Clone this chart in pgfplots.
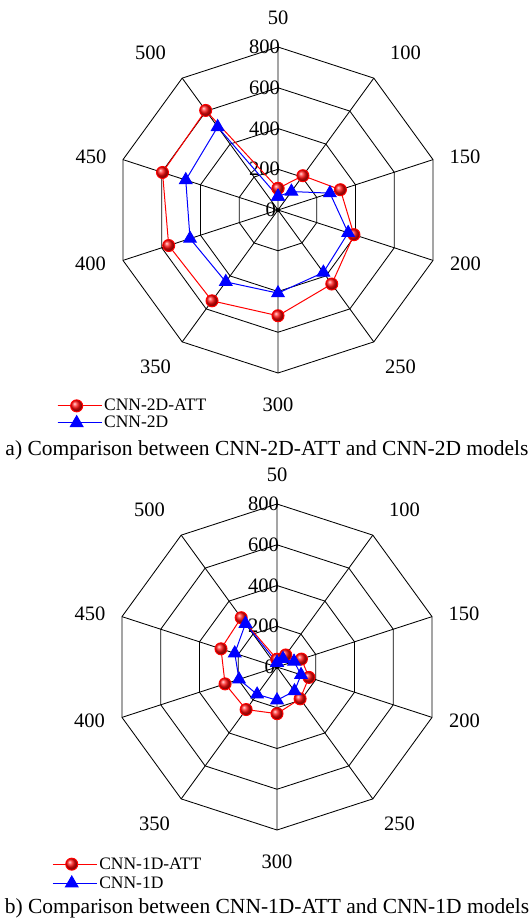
\documentclass[border=0pt]{standalone}
\usepackage{fontspec}
\setmainfont{Liberation Serif}
\usepackage{pgfplots}
\pgfplotsset{compat=1.18}
\usepgfplotslibrary{polar}
\pgfplotsset{
  radar/.style={
    width=326bp, height=326bp, scale only axis,
    xmin=0, xmax=360, ymin=0, ymax=800,
    xtick={18,54,90,126,162,198,234,270,306,342},
    xticklabels=\empty, ytick=\empty,
    xmajorgrids, ymajorgrids=false,
    major grid style={black, line width=0.85bp},
    major tick length=0pt,
    axis line style={draw=none},
    clip=false,
    legend style={draw=none, fill=none, inner sep=0pt,
      font=\fontsize{17.5bp}{18bp}\selectfont,
      cells={anchor=west}, row sep=0bp},
    legend image code/.code={\path (0bp,0bp) -- (44bp,0bp);\draw[mark repeat=2,mark phase=2,##1] plot coordinates {(0bp,0bp) (19bp,0bp) (38bp,0bp)};},
  },
  ring/.style={black, line width=0.85bp, forget plot, mark=none},
  attline/.style={red, line width=1bp, mark=ball, mark size=6bp, mark options={ball color=red!95!white}},
  baseline/.style={blue, line width=1bp, mark=triangle*, mark size=7.2bp, mark options={fill=blue, draw=blue}},
}
\newcommand{\lbl}{\fontsize{20.5bp}{24bp}\selectfont}
\newcommand{\radarframe}{%
  \addplot[ring] coordinates {(90,200)(54,200)(18,200)(342,200)(306,200)(270,200)(234,200)(198,200)(162,200)(126,200)(90,200)};
  \addplot[ring] coordinates {(90,400)(54,400)(18,400)(342,400)(306,400)(270,400)(234,400)(198,400)(162,400)(126,400)(90,400)};
  \addplot[ring] coordinates {(90,600)(54,600)(18,600)(342,600)(306,600)(270,600)(234,600)(198,600)(162,600)(126,600)(90,600)};
  \addplot[ring] coordinates {(90,800)(54,800)(18,800)(342,800)(306,800)(270,800)(234,800)(198,800)(162,800)(126,800)(90,800)};
  \node[font=\lbl] at (axis cs:90,943) {50};
  \node[font=\lbl] at (axis cs:51,995) {100};
  \node[font=\lbl] at (axis cs:16,955) {150};
  \node[font=\lbl] at (axis cs:344,957) {200};
  \node[font=\lbl] at (axis cs:308,977) {250};
  \node[font=\lbl] at (axis cs:270,957) {300};
  \node[font=\lbl] at (axis cs:232,977) {350};
  \node[font=\lbl] at (axis cs:196,957) {400};
  \node[font=\lbl] at (axis cs:164,955) {450};
  \node[font=\lbl] at (axis cs:129,995) {500};
  \node[font=\lbl, anchor=east, inner sep=0pt, xshift=2bp] at (axis cs:90,800) {800};
  \node[font=\lbl, anchor=east, inner sep=0pt, xshift=2bp] at (axis cs:90,600) {600};
  \node[font=\lbl, anchor=east, inner sep=0pt, xshift=2bp] at (axis cs:90,400) {400};
  \node[font=\lbl, anchor=east, inner sep=0pt, xshift=2bp] at (axis cs:90,200) {200};
  \node[font=\lbl, anchor=east, inner sep=0pt, xshift=-2bp] at (axis cs:90,0) {0};
}
\begin{document}
\begin{tikzpicture}
\path[use as bounding box] (0,0) rectangle (531bp,-920bp);
\begin{polaraxis}[radar, at={(278bp,-210bp)}, anchor=center,
  legend style={at={(axis description cs:-0.178,-0.074)}, anchor=north west}]
  \radarframe
  \addplot[attline] coordinates {(90,106)(54,208)(18,322)(342,392)(306,449)(270,519)(234,551)(198,564)(162,596)(126,604)(90,106)};
  \addplot[baseline] coordinates {(90,66)(54,112)(18,268)(342,362)(306,379)(270,408)(234,436)(198,454)(162,476)(126,504)(90,66)};
  \legend{CNN-2D-ATT, CNN-2D}
\end{polaraxis}
\begin{polaraxis}[radar, at={(277bp,-667bp)}, anchor=center,
  legend style={at={(axis description cs:-0.19,-0.078)}, anchor=north west, row sep=2bp}]
  \radarframe
  \addplot[attline] coordinates {(90,38)(54,73)(18,126)(342,165)(306,193)(270,229)(234,258)(198,268)(162,289)(126,299)(90,38)};
  \addplot[baseline] coordinates {(90,21)(54,50)(18,88)(342,124)(306,146)(270,163)(234,166)(198,196)(162,218)(126,263)(90,21)};
  \legend{CNN-1D-ATT, CNN-1D}
\end{polaraxis}
\node[font=\fontsize{21.5bp}{24bp}\selectfont] at (267bp,-450bp) {a) Comparison between CNN-2D-ATT and CNN-2D models};
\node[font=\fontsize{21.5bp}{24bp}\selectfont] at (267bp,-908bp) {b) Comparison between CNN-1D-ATT and CNN-1D models};
\end{tikzpicture}
\end{document}
